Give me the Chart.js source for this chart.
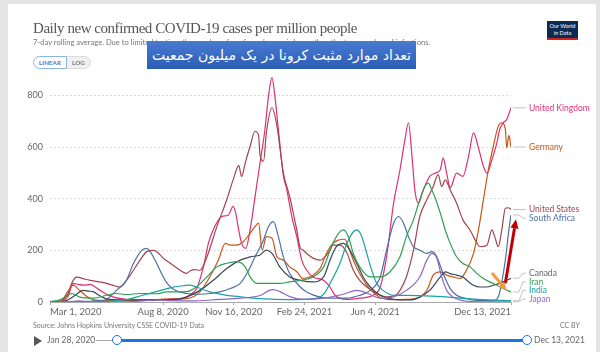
<!DOCTYPE html>
<html>
<head>
<meta charset="utf-8">
<script src="https://cdn.jsdelivr.net/npm/chart.js@4"></script>
<style>
  body { margin: 0; width: 600px; height: 352px; background: #e4e4e4; position: relative; overflow: hidden; font-family: Lato, sans-serif; }
  #card { position: absolute; left: 8px; top: 4px; width: 588px; height: 348px; background: #fff; }
  #chart { position: absolute; left: 0; top: 0; }
  .abs { position: absolute; white-space: nowrap; }
  #title { left: 33px; top: 20px; font-family: "Liberation Serif", serif; font-size: 15px; letter-spacing: -0.45px; color: #555; }
  #subtitle { left: 33px; top: 37px; font-size: 7.6px; color: #777; }
  #toggle { left: 33px; top: 56px; font-size: 6.3px; font-weight: bold; display: flex; }
  #toggle span { padding: 2px 5px; border: 1px solid #ddd; }
  #toggle .on { color: #3b7cc4; border-color: #8ab6e6; border-radius: 7px 0 0 7px; }
  #toggle .off { color: #777; background: #f0f0f0; border-left: none; border-radius: 0 7px 7px 0; }
  #banner { left: 147px; top: 41px; width: 269px; height: 28px; background: linear-gradient(#4a7bd2, #2c5db6); color: #fff;
            font-family: "DejaVu Sans", sans-serif; font-size: 14px; line-height: 28px; text-align: center; direction: rtl; z-index: 3; }
  #logo { left: 547px; top: 21px; width: 31px; height: 19px; background: #0d2a54; border-bottom: 2px solid #ce261e; color: #fff;
          font-size: 5.6px; line-height: 6.5px; text-align: center; padding-top: 2px; box-sizing: border-box; }
  #source { left: 33px; top: 321px; font-size: 7px; color: #777; }
  #ccby { left: 560px; top: 321px; font-size: 7px; color: #777; }
  #play { left: 34px; top: 336px; width: 0; height: 0; border-left: 8px solid #555; border-top: 5px solid transparent; border-bottom: 5px solid transparent; }
  #start { left: 47px; top: 335px; font-size: 8.5px; color: #666; }
  #end { left: 534px; top: 335px; font-size: 8.5px; color: #666; }
  #track0 { left: 96px; top: 340px; width: 21px; height: 1px; background: #aaa; }
  #track1 { left: 117px; top: 339px; width: 410px; height: 3px; background: #1a73e8; }
  .knob { top: 335px; width: 8px; height: 8px; border: 1.5px solid #1a73e8; border-radius: 50%; background: #fff; }
</style>
</head>
<body>
<div id="card"></div>
<canvas id="chart" width="600" height="352"></canvas>
<div class="abs" id="title">Daily new confirmed COVID-19 cases per million people</div>
<div class="abs" id="subtitle">7-day rolling average. Due to limited testing, the number of confirmed cases is lower than the true number of infections.</div>
<div class="abs" id="toggle"><span class="on">LINEAR</span><span class="off">LOG</span></div>
<div class="abs" id="banner">تعداد موارد مثبت کرونا در یک میلیون جمعیت</div>
<div class="abs" id="logo">Our World<br>in Data</div>
<div class="abs" id="source">Source: Johns Hopkins University CSSE COVID-19 Data</div>
<div class="abs" id="ccby">CC BY</div>
<div class="abs" id="play"></div>
<div class="abs" id="start">Jan 28, 2020</div>
<div class="abs" id="track0"></div>
<div class="abs" id="track1"></div>
<div class="abs knob" style="left:112px"></div>
<div class="abs knob" style="left:522px"></div>
<div class="abs" id="end">Dec 13, 2021</div>

<script>
// x = days since Mar 1, 2020; y = new cases per million (7-day avg)
const xTicks = [0, 160, 260, 360, 460, 652];
const yTicks = [0, 200, 400, 600, 800];

const unitedKingdom = [[0,0],[15,2],[25,20],[33,72],[40,68],[47,65],[57,68],[64,58],[71,45],[80,30],[90,19],[108,10],[130,8],[160,10],[180,12],[193,20],[200,32],[207,50],[217,136],[224,227],[233,292],[243,331],[252,336],[259,370],[263,340],[266,292],[271,228],[277,208],[283,279],[290,408],[297,538],[304,668],[309,797],[314,869],[318,797],[323,668],[330,490],[335,434],[342,331],[349,253],[356,162],[363,123],[372,97],[387,84],[396,58],[403,26],[420,10],[438,15],[457,26],[467,58],[476,175],[486,383],[495,512],[502,629],[507,694],[512,564],[516,434],[521,383],[528,434],[537,486],[545,499],[552,512],[556,558],[561,499],[566,442],[575,499],[584,486],[592,564],[599,655],[606,597],[613,525],[618,499],[625,551],[632,616],[636,668],[641,694],[646,707],[652,752]];
const germany = [[0,0],[10,1],[18,10],[25,40],[33,65],[40,50],[47,33],[54,18],[61,9],[80,5],[120,5],[150,8],[170,12],[193,13],[212,39],[226,97],[238,162],[248,227],[255,220],[264,220],[273,233],[283,266],[290,292],[295,305],[300,201],[306,253],[314,247],[321,175],[330,162],[339,136],[349,117],[358,91],[372,104],[382,130],[391,188],[400,227],[408,240],[417,243],[422,214],[429,162],[438,110],[448,65],[462,26],[481,9],[504,10],[514,12],[523,19],[533,45],[542,104],[552,117],[561,104],[570,97],[580,91],[589,123],[599,188],[606,279],[613,396],[620,512],[627,603],[634,681],[639,694],[644,668],[646,597],[649,645],[652,600]];
const unitedStates = [[0,0],[14,3],[25,30],[32,80],[38,96],[50,88],[57,84],[70,78],[80,72],[92,62],[99,58],[110,90],[118,123],[128,165],[137,195],[146,200],[151,195],[160,170],[170,150],[184,123],[193,111],[198,120],[205,125],[212,123],[222,175],[236,292],[250,396],[259,473],[267,528],[271,486],[276,537],[283,603],[290,661],[295,645],[297,570],[302,545],[306,655],[314,752],[321,681],[330,500],[339,408],[349,279],[354,209],[358,201],[363,188],[372,170],[382,162],[391,182],[396,201],[400,220],[410,220],[420,190],[429,123],[438,84],[448,58],[462,33],[476,20],[490,28],[495,45],[504,97],[514,200],[523,331],[533,396],[542,447],[549,493],[554,447],[559,473],[566,434],[575,383],[584,318],[594,279],[604,227],[608,214],[618,220],[625,279],[629,253],[634,214],[639,279],[644,363],[648,365],[652,358]];
const southAfrica = [[0,0],[30,0],[50,2],[70,5],[80,10],[94,45],[108,84],[118,149],[130,201],[137,208],[146,175],[156,120],[165,75],[174,50],[193,33],[212,30],[226,33],[240,39],[255,52],[269,72],[281,123],[290,175],[302,240],[309,292],[316,311],[323,253],[330,175],[339,110],[354,58],[363,39],[382,19],[400,15],[420,15],[438,26],[453,45],[467,97],[476,201],[486,305],[493,331],[500,305],[507,253],[514,214],[523,201],[533,188],[540,195],[547,175],[556,110],[566,52],[575,26],[589,13],[608,5],[627,5],[634,19],[639,78],[644,162],[649,279],[652,337]];
const canada = [[0,0],[14,1],[25,8],[35,25],[47,45],[55,42],[61,40],[70,25],[80,12],[104,8],[150,8],[180,10],[193,19],[212,45],[231,84],[250,130],[269,162],[283,175],[297,182],[306,201],[314,188],[325,136],[339,97],[354,84],[372,78],[387,97],[396,162],[405,214],[415,227],[424,201],[434,149],[443,97],[453,58],[467,26],[486,10],[509,8],[523,19],[537,45],[552,97],[559,117],[566,110],[575,104],[584,97],[592,78],[599,65],[608,58],[618,58],[627,65],[636,72],[646,84],[652,92]];
const iran = [[0,2],[14,8],[22,20],[31,33],[42,19],[61,15],[80,26],[94,33],[108,29],[127,33],[151,32],[165,39],[193,40],[207,58],[222,97],[236,136],[250,150],[264,156],[276,136],[283,97],[292,72],[308,72],[325,72],[339,78],[354,84],[372,97],[387,136],[398,214],[408,266],[415,279],[422,253],[429,188],[438,136],[453,97],[467,97],[481,117],[495,175],[504,253],[514,318],[523,396],[530,447],[535,460],[540,434],[545,402],[552,344],[559,279],[566,227],[575,175],[584,149],[594,136],[604,110],[613,91],[622,78],[632,65],[641,52],[652,39]];
const india = [[0,0],[40,0.5],[80,3],[110,10],[130,25],[150,40],[170,55],[185,62],[198,65],[210,55],[225,40],[250,26],[270,20],[297,13],[339,9],[372,12],[387,30],[396,72],[410,149],[420,227],[429,272],[434,279],[441,253],[448,188],[455,123],[462,72],[471,45],[486,26],[504,26],[530,24],[560,20],[590,13],[620,8],[652,5]];
const japan = [[0,0.3],[30,2],[40,4],[60,1],[100,0.5],[140,6],[155,8],[170,5],[200,4],[240,10],[270,15],[297,25],[310,45],[316,48],[325,40],[340,20],[360,10],[387,15],[415,30],[434,45],[448,35],[467,15],[486,20],[504,45],[523,97],[533,162],[540,188],[547,170],[554,97],[561,45],[570,19],[590,3],[620,1],[652,1]];

// annotation arrows drawn on top of the image (tail, head) in data units
const redArrow = [[644,73],[659,320]];
const orangeArrow = [[625,112],[646,45]];

const series = [
  { label: 'Japan', data: japan, color: '#8a67c4' },
  { label: 'India', data: india, color: '#1ba3a3' },
  { label: 'Iran', data: iran, color: '#2f9e53' },
  { label: 'Canada', data: canada, color: '#3b4759', labelColor: '#666' },
  { label: 'South Africa', data: southAfrica, color: '#4e6fa5' },
  { label: 'Germany', data: germany, color: '#c8571a' },
  { label: 'United States', data: unitedStates, color: '#a2454f' },
  { label: 'United Kingdom', data: unitedKingdom, color: '#e12e74' }
];

const months = ['Jan','Feb','Mar','Apr','May','Jun','Jul','Aug','Sep','Oct','Nov','Dec'];
function dayLabel(d) {
  const dt = new Date(2020, 2, 1 + d);
  return months[dt.getMonth()] + ' ' + dt.getDate() + ', ' + dt.getFullYear();
}

// Labels at the end of each line, pushed apart so they don't overlap
const endLabels = {
  id: 'endLabels',
  afterDatasetsDraw(chart) {
    const { ctx, chartArea, scales } = chart;
    const items = chart.data.datasets.map(ds => {
      const last = ds.data[ds.data.length - 1];
      return { name: ds.label, color: ds.labelColor || ds.borderColor,
               x0: scales.x.getPixelForValue(last.x), y0: scales.y.getPixelForValue(last.y) };
    }).sort((a, b) => a.y0 - b.y0);
    const gap = 8.6, maxY = chartArea.bottom - 3;
    items.forEach((it, i) => {
      it.y = it.y0;
      if (i > 0 && it.y < items[i - 1].y + gap) it.y = items[i - 1].y + gap;
    });
    for (let i = items.length - 1; i >= 0; i--) {
      const lim = i === items.length - 1 ? maxY : items[i + 1].y - gap;
      if (items[i].y > lim) items[i].y = lim;
    }
    const labelX = 529;
    ctx.save();
    ctx.font = '8.5px Lato';
    ctx.textBaseline = 'middle';
    items.forEach(it => {
      ctx.strokeStyle = '#c4c4c4';
      ctx.lineWidth = 1;
      ctx.beginPath();
      ctx.moveTo(it.x0 + 2, it.y0);
      ctx.lineTo(it.x0 + 8, it.y0);
      ctx.lineTo(it.x0 + 12, it.y);
      ctx.lineTo(labelX - 3, it.y);
      ctx.stroke();
      ctx.fillStyle = it.color;
      ctx.fillText(it.name, labelX, it.y);
    });
    ctx.restore();
  }
};

function drawArrow(ctx, scales, pts, color, width, head) {
  const x1 = scales.x.getPixelForValue(pts[0][0]), y1 = scales.y.getPixelForValue(pts[0][1]);
  const x2 = scales.x.getPixelForValue(pts[1][0]), y2 = scales.y.getPixelForValue(pts[1][1]);
  const a = Math.atan2(y2 - y1, x2 - x1);
  const bx = x2 - head * Math.cos(a), by = y2 - head * Math.sin(a);
  ctx.strokeStyle = color;
  ctx.fillStyle = color;
  ctx.lineWidth = width;
  ctx.beginPath();
  ctx.moveTo(x1, y1);
  ctx.lineTo(bx, by);
  ctx.stroke();
  ctx.beginPath();
  ctx.moveTo(x2, y2);
  ctx.lineTo(bx + head * 0.45 * Math.sin(a), by - head * 0.45 * Math.cos(a));
  ctx.lineTo(bx - head * 0.45 * Math.sin(a), by + head * 0.45 * Math.cos(a));
  ctx.closePath();
  ctx.fill();
}

const arrows = {
  id: 'arrows',
  afterDraw(chart) {
    const { ctx, scales } = chart;
    ctx.save();
    drawArrow(ctx, scales, redArrow, '#c00000', 3, 9);
    drawArrow(ctx, scales, orangeArrow, '#f39a3a', 3, 8);
    ctx.restore();
  }
};

new Chart(document.getElementById('chart'), {
  type: 'line',
  data: {
    datasets: series.map(s => ({
      label: s.label,
      labelColor: s.labelColor,
      data: s.data.map(([x, y]) => ({ x, y })),
      borderColor: s.color,
      borderWidth: 1.2,
      pointRadius: 0,
      cubicInterpolationMode: 'monotone',
      fill: false
    }))
  },
  options: {
    responsive: false,
    animation: false,
    layout: { padding: { left: 0, top: 76, right: 89, bottom: 0 } },
    plugins: { legend: { display: false }, tooltip: { enabled: false } },
    scales: {
      x: {
        type: 'linear',
        min: 0,
        max: 652,
        afterBuildTicks: axis => { axis.ticks = xTicks.map(v => ({ value: v })); },
        afterFit: axis => { axis.height = 50; },
        ticks: { align: 'inner', maxRotation: 0, autoSkip: false, padding: 1, color: '#666',
                 font: { family: 'Lato', size: 9.5 }, callback: v => dayLabel(v) },
        grid: { drawOnChartArea: false, tickLength: 3, color: '#aaa' },
        border: { display: true, color: '#aaa' }
      },
      y: {
        min: 0,
        max: 875,
        afterBuildTicks: axis => { axis.ticks = yTicks.map(v => ({ value: v })); },
        afterFit: axis => { axis.width = 50; },
        ticks: { padding: 7, color: '#666', font: { family: 'Lato', size: 9 } },
        grid: { color: '#dcdcdc', drawTicks: false, tickLength: 0 },
        border: { display: false, dash: [2, 2] }
      }
    }
  },
  plugins: [endLabels, arrows]
});
</script>
</body>
</html>
